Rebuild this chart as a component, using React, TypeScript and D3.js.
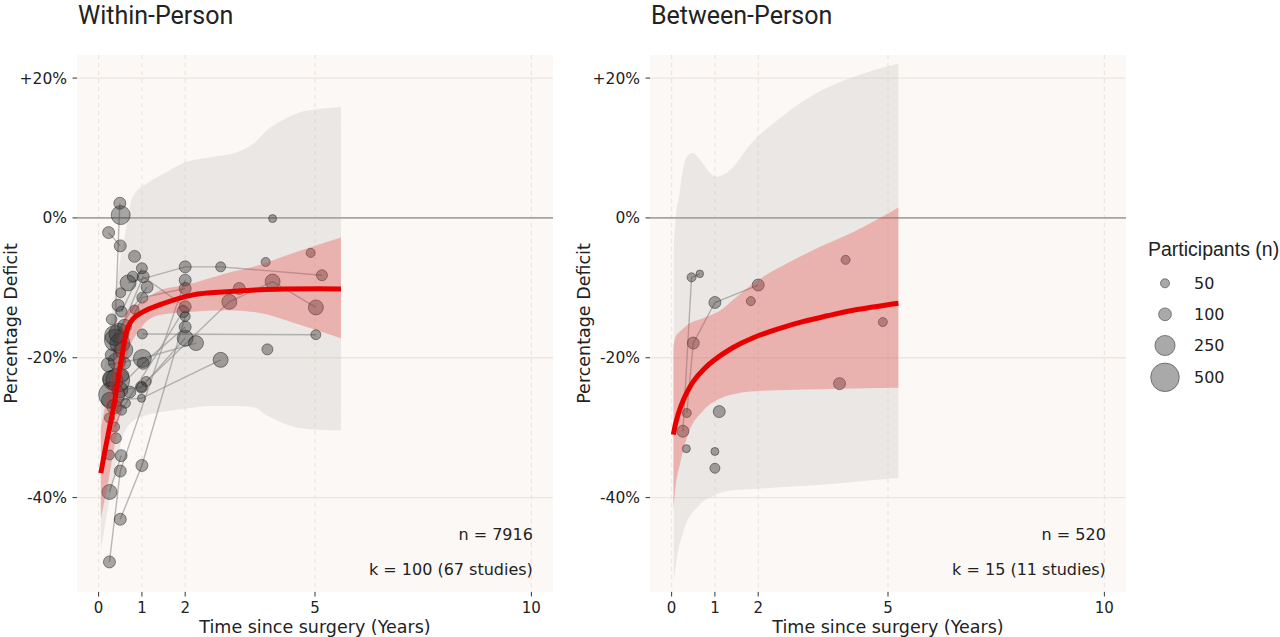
import React from 'react';
import * as d3 from 'd3';

// ---------- axis / legend values ----------
const xTicks = [0, 1, 2, 5, 10];
const yTicks = [20, 0, -20, -40];
const yTickLabels = ['+20%', '0%', '-20%', '-40%'];
const legendSizes = [50, 100, 250, 500];

// ---------- Within-person ----------
// [years, mean %]
const withinMean: [number, number][] = [
  [0.05, -36.5], [0.15, -33.2], [0.25, -30.0], [0.34, -27.3], [0.42, -24.2],
  [0.49, -21.5], [0.56, -19.0], [0.62, -17.0], [0.68, -15.6], [0.8, -14.4],
  [1.0, -13.5], [1.42, -12.4], [2.18, -11.0], [2.96, -10.55], [4.12, -10.2], [5.6, -10.15],
];
// [years, lower, upper]
const withinCI: [number, number, number][] = [
  [0.05, -43.0, -30.0], [0.15, -40.0, -27.0], [0.3, -35.0, -22.5], [0.5, -27.5, -16.5],
  [0.65, -20.0, -13.3], [0.95, -16.0, -12.2], [1.4, -13.9, -10.4], [2.0, -13.5, -9.6],
  [2.96, -13.2, -7.9], [3.73, -13.6, -6.7], [4.5, -15.0, -5.0], [5.6, -17.2, -2.8],
];
const withinPI: [number, number, number][] = [
  [0.05, -47.5, -26.0], [0.2, -42.0, -18.0], [0.35, -37.0, -12.0], [0.5, -32.5, -6.0],
  [0.62, -30.3, -2.0], [0.75, -29.3, 2.4], [0.85, -28.8, 3.6], [1.06, -28.3, 4.7],
  [1.52, -27.7, 6.4], [1.98, -27.3, 7.9], [2.6, -26.9, 8.7], [3.2, -26.9, 9.4],
  [3.6, -27.1, 10.7], [3.9, -28.3, 12.6], [4.14, -29.0, 13.6], [4.6, -30.0, 15.0],
  [5.14, -30.3, 15.6], [5.6, -30.4, 15.9],
];
// [years, % deficit, participants, study]
const withinPoints: [number, number, number, string][] = [
  [0.33, -23.2, 244, 's1'], [0.49, 2.1, 88, 's1'],
  [0.25, -49.2, 88, 's2'], [0.5, -36.2, 88, 's2'], [2.0, -8.9, 88, 's2'],
  [0.5, -43.1, 88, 's3'], [1.0, -35.4, 88, 's3'], [2.0, -14.1, 61, 's3'],
  [0.68, -9.3, 156, 's4'], [2.0, -7.0, 88, 's4'], [2.82, -7.0, 61, 's4'], [5.16, -8.2, 74, 's4'],
  [1.01, -16.6, 61, 's5'], [5.02, -16.7, 61, 's5'],
  [1.1, -23.4, 61, 's6'], [3.02, -12.0, 137, 's6'], [4.02, -9.1, 137, 's6'], [5.02, -12.8, 137, 's6'],
  [0.22, -21.0, 120, 's7'], [1.01, -20.1, 198, 's7'], [2.25, -17.9, 137, 's7'],
  [0.49, -17.9, 244, 's8'], [1.01, -11.4, 74, 's8'], [2.0, -10.1, 88, 's8'],
  [0.37, -16.8, 244, 's9'], [1.12, -9.9, 88, 's9'],
  [0.23, -2.1, 88, 's10'], [0.5, -4.0, 88, 's10'],
  [0.25, -26.1, 156, 's11'], [0.99, -25.8, 39, 's11'], [2.82, -20.3, 137, 's11'],
  [0.25, -39.2, 137, 's12'], [0.52, -34.0, 88, 's12'],
  [0.49, -24.6, 156, 's13'], [0.99, -24.2, 88, 's13'], [2.0, -17.2, 156, 's13'],
  [0.47, -16.5, 244, 's14'], [1.03, -8.4, 88, 's14'], [2.0, -12.7, 88, 's14'],
  [0.3, -25.3, 410, 's15'], [1.03, -20.8, 88, 's15'], [2.0, -15.6, 88, 's15'],
  [0.53, -13.4, 74, 's16'], [1.0, -7.2, 74, 's16'],
  [0.37, -29.9, 61, 's17'], [0.53, -27.5, 61, 's17'], [1.95, -13.4, 88, 's17'],
  [0.51, 0.4, 220, ''], [0.83, -5.5, 88, ''], [0.79, -8.4, 74, ''], [0.51, -10.7, 61, ''],
  [0.83, -13.1, 50, ''], [0.29, -19.6, 88, ''], [3.25, -10.1, 88, ''], [3.86, -6.3, 50, ''],
  [3.9, -18.8, 74, ''], [4.9, -5.0, 50, ''], [4.02, -0.1, 39, ''], [0.6, -20.8, 88, ''],
  [0.72, -24.9, 88, ''], [0.25, -28.6, 61, ''], [0.25, -33.9, 61, ''], [0.44, -23.2, 350, ''],
  [0.39, -17.5, 300, ''], [0.58, -18.9, 200, ''], [0.42, -20.5, 180, ''], [0.36, -27.0, 130, ''],
  [0.55, -22.5, 100, ''], [0.3, -14.5, 70, ''], [0.45, -12.5, 90, ''], [0.62, -26.5, 60, ''],
  [0.4, -31.5, 70, ''], [0.27, -23.0, 150, ''], [0.6, -15.5, 120, ''], [0.99, -24.2, 61, ''],
];

// ---------- Between-person ----------
const betweenMean: [number, number][] = [
  [0.04, -31.0], [0.1, -29.2], [0.21, -27.0], [0.35, -25.0], [0.51, -23.3], [0.75, -21.6],
  [0.97, -20.4], [1.4, -18.6], [1.9, -17.1], [2.5, -15.8], [3.05, -14.8], [3.6, -14.0],
  [4.2, -13.2], [5.24, -12.2],
];
const betweenCI: [number, number, number][] = [
  [0.04, -41.8, -18.5], [0.09, -38.5, -17.0], [0.2, -35.0, -16.2], [0.36, -31.3, -15.3],
  [0.74, -27.5, -14.3], [1.13, -25.8, -13.2], [1.52, -25.1, -11.2], [1.9, -24.8, -9.3],
  [2.67, -24.6, -6.5], [3.44, -24.5, -4.1], [4.2, -24.4, -2.0], [5.24, -24.3, 1.5],
];
const betweenPI: [number, number, number][] = [
  [0.05, -52.0, -4.0], [0.1, -49.5, 0.5], [0.17, -47.0, 3.0], [0.25, -45.3, 6.5],
  [0.35, -43.5, 8.8], [0.5, -42.0, 9.3], [0.62, -41.2, 8.6], [0.74, -40.5, 7.6],
  [0.9, -40.0, 6.3], [1.05, -39.5, 5.9], [1.36, -39.0, 6.9], [1.82, -38.8, 10.5],
  [2.59, -38.5, 14.7], [3.36, -38.2, 17.9], [4.13, -37.8, 20.0], [5.24, -37.2, 22.1],
];
const betweenPoints: [number, number, number, string][] = [
  [0.26, -30.5, 88, 'b1'], [0.46, -8.5, 50, 'b1'], [0.65, -8.0, 35, 'b1'],
  [0.35, -27.9, 50, 'b2'], [0.5, -17.9, 88, 'b2'], [1.0, -12.1, 88, 'b2'], [2.0, -9.6, 88, 'b2'],
  [1.83, -11.9, 50, ''], [4.02, -6.0, 50, ''], [4.88, -14.9, 50, ''], [3.88, -23.7, 88, ''],
  [1.1, -27.7, 88, ''], [0.34, -33.0, 39, ''], [1.0, -33.4, 39, ''], [1.0, -35.8, 61, ''],
];

const TICK_FONT = '"DejaVu Sans", sans-serif';
const TITLE_FONT = 'Roboto, sans-serif';
const rScale = d3.scaleSqrt().domain([0, 500]).range([0, 14.3]);

type PanelProps = {
  left: number;
  title: string;
  mean: [number, number][];
  ci: [number, number, number][];
  pi: [number, number, number][];
  points: [number, number, number, string][];
  nText: string;
  kText: string;
};

const TOP = 55;
const BOTTOM = 592;
const WIDTH = 476;

function Panel({ left, title, mean, ci, pi, points, nText, kText }: PanelProps) {
  const x = d3.scaleLinear().domain([-0.5, 10.5]).range([left, left + WIDTH]);
  const y = d3.scaleLinear().domain([-53.5, 23.3]).range([BOTTOM, TOP]);
  const band = d3
    .area<[number, number, number]>()
    .x((d) => x(d[0]))
    .y0((d) => y(d[1]))
    .y1((d) => y(d[2]))
    .curve(d3.curveMonotoneX);
  const meanLine = d3
    .line<[number, number]>()
    .x((d) => x(d[0]))
    .y((d) => y(d[1]))
    .curve(d3.curveCatmullRom.alpha(0.5));
  const studyLine = d3
    .line<[number, number, number, string]>()
    .x((d) => x(d[0]))
    .y((d) => y(d[1]));
  const groups = d3.groups(
    points.filter((p) => p[3] !== ''),
    (p) => p[3]
  );
  const sortedPts = [...points].sort((a, b) => b[2] - a[2]);
  return (
    <g>
      <rect x={left} y={TOP} width={WIDTH} height={BOTTOM - TOP} fill="#fcf8f5" />
      {yTicks.map((t) => (
        <line key={'hy' + t} x1={left} x2={left + WIDTH} y1={y(t)} y2={y(t)} stroke="#ebe6e1" strokeWidth={1.3} />
      ))}
      {xTicks.map((t) => (
        <line key={'vx' + t} x1={x(t)} x2={x(t)} y1={TOP} y2={BOTTOM} stroke="#e3ded9" strokeWidth={0.9} strokeDasharray="4,4" />
      ))}
      <path d={band(pi) || ''} fill="#c8c5c3" fillOpacity={0.33} />
      <line x1={left} x2={left + WIDTH} y1={y(0)} y2={y(0)} stroke="#a8a5a2" strokeWidth={1.6} />
      {groups.map(([key, pts]) => (
        <path
          key={key}
          d={studyLine([...pts].sort((a, b) => a[0] - b[0])) || ''}
          fill="none"
          stroke="#8a8a8a"
          strokeOpacity={0.6}
          strokeWidth={1.4}
        />
      ))}
      {sortedPts.map((p, i) => (
        <circle
          key={i}
          cx={x(p[0])}
          cy={y(p[1])}
          r={rScale(p[2])}
          fill="#333333"
          fillOpacity={0.42}
          stroke="#222222"
          strokeOpacity={0.55}
          strokeWidth={0.9}
        />
      ))}
      <path d={band(ci) || ''} fill="#e53935" fillOpacity={0.3} />
      <path d={meanLine(mean) || ''} fill="none" stroke="#e80000" strokeWidth={5} />
      {/* axes */}
      {yTicks.map((t, i) => (
        <g key={'yt' + t}>
          <line x1={left - 4.5} x2={left} y1={y(t)} y2={y(t)} stroke="#333" strokeWidth={1} />
          <text x={left - 10} y={y(t)} dy="0.36em" textAnchor="end" fontFamily={TICK_FONT} fontSize={15.5} fill="#222">
            {yTickLabels[i]}
          </text>
        </g>
      ))}
      {xTicks.map((t) => (
        <g key={'xt' + t}>
          <line x1={x(t)} x2={x(t)} y1={BOTTOM} y2={BOTTOM + 4.5} stroke="#333" strokeWidth={1} />
          <text x={x(t)} y={613} textAnchor="middle" fontFamily={TICK_FONT} fontSize={15} fill="#222">
            {t}
          </text>
        </g>
      ))}
      <text x={left + WIDTH / 2} y={633} textAnchor="middle" fontFamily={TICK_FONT} fontSize={17.5} fill="#222">
        Time since surgery (Years)
      </text>
      <text
        transform={`translate(${left - 60},${(TOP + BOTTOM) / 2}) rotate(-90)`}
        textAnchor="middle"
        fontFamily={TICK_FONT}
        fontSize={17.5}
        fill="#222"
      >
        Percentage Deficit
      </text>
      <text x={left + 1} y={23.5} fontFamily={TITLE_FONT} fontSize={25} fill="#222">
        {title}
      </text>
      <text x={x(10) + 1.5} y={540} textAnchor="end" fontFamily={TICK_FONT} fontSize={16} fill="#222">
        {nText}
      </text>
      <text x={x(10) + 1.5} y={575} textAnchor="end" fontFamily={TICK_FONT} fontSize={16} fill="#222">
        {kText}
      </text>
    </g>
  );
}

export default function App() {
  const legendY = [283.3, 314.3, 345.5, 377.3];
  return (
    <svg
      width={1280}
      height={637}
      viewBox="0 0 1280 637"
      style={{ position: 'absolute', left: 0, top: 0, display: 'block', background: '#ffffff' }}
    >
      <rect x={0} y={0} width={1280} height={637} fill="#ffffff" />
      <Panel
        left={77}
        title="Within-Person"
        mean={withinMean}
        ci={withinCI}
        pi={withinPI}
        points={withinPoints}
        nText="n = 7916"
        kText="k = 100 (67 studies)"
      />
      <Panel
        left={650}
        title="Between-Person"
        mean={betweenMean}
        ci={betweenCI}
        pi={betweenPI}
        points={betweenPoints}
        nText="n = 520"
        kText="k = 15 (11 studies)"
      />
      <text x={1148} y={256} fontFamily='"Liberation Sans", Arial, sans-serif' fontSize={19.5} fill="#222">
        Participants (n)
      </text>
      {legendSizes.map((s, i) => (
        <g key={'lg' + s}>
          <circle
            cx={1165}
            cy={legendY[i]}
            r={rScale(s)}
            fill="#333333"
            fillOpacity={0.42}
            stroke="#222222"
            strokeOpacity={0.55}
            strokeWidth={0.9}
          />
          <text x={1194} y={legendY[i]} dy="0.36em" fontFamily={TICK_FONT} fontSize={16} fill="#222">
            {s}
          </text>
        </g>
      ))}
    </svg>
  );
}
